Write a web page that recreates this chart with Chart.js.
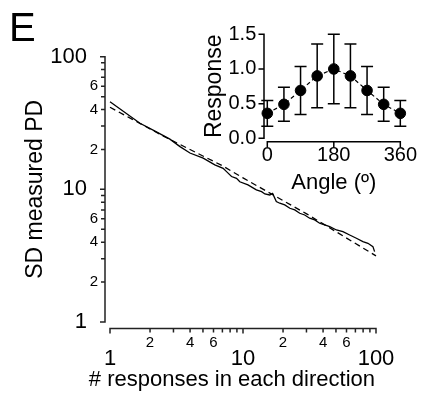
<!DOCTYPE html>
<html><head><meta charset="utf-8">
<script src="https://cdn.jsdelivr.net/npm/chart.js@4/dist/chart.umd.min.js"></script>
<style>
html,body{margin:0;padding:0;background:#fff;}
#wrap{position:relative;width:422px;height:393px;overflow:hidden;font-family:"Liberation Sans",Arial,sans-serif;}
#main{position:absolute;left:0;top:0;width:422px;height:393px;}
#inset{position:absolute;left:190px;top:0;width:232px;height:200px;}
#panel{position:absolute;left:9px;top:7px;font-size:40px;line-height:40px;color:#000;}
</style></head><body>
<div id="wrap">
<canvas id="main" width="422" height="393"></canvas>
<canvas id="inset" width="232" height="200"></canvas>
<div id="panel">E</div>
</div>
<script>
// ---- main panel data (log-log) ----
const nResponses = [1, 1.68, 2.18, 2.82, 3.36, 3.99, 5.02, 6.14, 7.09, 7.52, 8.2, 8.94, 9.46, 10.9, 12.6, 13.8, 14.6, 15.9, 16.7, 17.8, 18.9, 20.6, 22.5, 24.5, 26.7, 29.1, 31.7, 34.6, 37.7, 41.1, 44.9, 50.4, 56.4, 63.4, 71.2, 79.7, 87.0, 94.8, 97.6];
const sdMeasured = [45.8, 31.5, 27.5, 23.9, 21.0, 18.8, 17.2, 15.3, 14.4, 13.6, 12.5, 12.1, 11.4, 10.8, 9.9, 9.6, 9.23, 9.07, 9.31, 8.08, 7.86, 7.63, 7.20, 7.00, 6.60, 6.41, 6.06, 5.88, 5.55, 5.39, 5.24, 4.94, 4.80, 4.53, 4.28, 4.04, 3.92, 3.70, 3.39];
const fitN = [1, 2.5, 7.05, 10, 30.1, 58.1, 100];
const fitSD = [41.6, 25.3, 15.0, 12.2, 6.53, 4.38, 3.15];
const logTickValues = [1,2,3,4,5,6,7,8,9,10,20,30,40,50,60,70,80,90,100];
const logMajorValues = [1, 10, 100];
const logMinorLabels = {2:'2', 4:'4', 6:'6', 20:'2', 40:'4', 60:'6'};
const mainXTitle = '# responses in each direction';
const mainYTitle = 'SD measured PD';

// ---- inset data ----
const angles = [0, 45, 90, 135, 180, 225, 270, 315, 360];
const responses = [0.36, 0.49, 0.69, 0.90, 1.00, 0.90, 0.69, 0.49, 0.36];
const responseErr = [0.185, 0.245, 0.345, 0.46, 0.50, 0.46, 0.345, 0.245, 0.185];
const angleTicks = [0, 180, 360];
const responseTicks = [0, 0.5, 1.0, 1.5];
const insetXTitle = 'Angle (º)';
const insetYTitle = 'Response';

const FAMILY = "'Liberation Sans', Arial, Helvetica, sans-serif";
Chart.defaults.font.family = FAMILY;
Chart.defaults.color = '#000';

const offsetAxes = {
  id: 'offsetAxes',
  afterDraw(chart, args, o) {
    const {ctx, chartArea} = chart;
    const x = chart.scales.x, y = chart.scales.y;
    const ax = chartArea.left - o.gapX;
    const ay = chartArea.bottom + o.gapY;
    ctx.save();
    ctx.strokeStyle = o.color;
    ctx.lineWidth = o.width;
    ctx.lineCap = 'butt';
    ctx.beginPath();
    const yTop = y.getPixelForValue(y.max), yBot = y.getPixelForValue(y.min);
    ctx.moveTo(ax, yTop - o.width/2); ctx.lineTo(ax, yBot + o.width/2);
    y.ticks.forEach(t => {
      const py = y.getPixelForValue(t.value);
      const len = o.isMajorY(t.value) ? o.majorLen : o.minorLen;
      ctx.moveTo(ax, py); ctx.lineTo(ax - len, py);
    });
    const xL = x.getPixelForValue(x.min), xR = x.getPixelForValue(x.max);
    ctx.moveTo(xL - o.width/2, ay); ctx.lineTo(xR + o.width/2, ay);
    x.ticks.forEach(t => {
      const px = x.getPixelForValue(t.value);
      const len = o.isMajorX(t.value) ? o.majorLen : o.minorLen;
      ctx.moveTo(px, ay); ctx.lineTo(px, ay + len);
    });
    ctx.stroke();
    if (o.xTitle) {
      // axis title anchored to the right end of the x scale
      ctx.fillStyle = '#000';
      ctx.font = o.xTitle.size + 'px ' + FAMILY;
      ctx.textAlign = 'right';
      ctx.textBaseline = 'middle';
      ctx.fillText(o.xTitle.text, xR - 1, o.xTitle.y);
    }
    ctx.restore();
  }
};

const errorBars = {
  id: 'errorBars',
  beforeDatasetsDraw(chart, args, o) {
    const {ctx} = chart;
    const x = chart.scales.x, y = chart.scales.y;
    ctx.save();
    ctx.strokeStyle = '#000';
    ctx.lineWidth = o.width;
    ctx.beginPath();
    angles.forEach((a, i) => {
      const px = x.getPixelForValue(a);
      const top = y.getPixelForValue(responses[i] + responseErr[i]);
      const bot = y.getPixelForValue(responses[i] - responseErr[i]);
      ctx.moveTo(px, top); ctx.lineTo(px, bot);
      ctx.moveTo(px - o.cap, top); ctx.lineTo(px + o.cap, top);
      ctx.moveTo(px - o.cap, bot); ctx.lineTo(px + o.cap, bot);
    });
    ctx.stroke();
    ctx.restore();
  }
};

const isLogMajor = v => logMajorValues.includes(v);
const noGrid = {display: false, drawTicks: false, tickLength: 0};

new Chart(document.getElementById('main'), {
  type: 'line',
  data: {
    datasets: [
      {
        data: nResponses.map((n, i) => ({x: n, y: sdMeasured[i]})),
        borderColor: '#000', borderWidth: 1.3, pointRadius: 0, tension: 0, fill: false, clip: false
      },
      {
        data: fitN.map((n, i) => ({x: n, y: fitSD[i]})),
        borderColor: '#000', borderWidth: 1.3, borderDash: [6, 4], pointRadius: 0, tension: 0, fill: false, clip: false
      }
    ]
  },
  options: {
    responsive: false, animation: false, events: [],
    layout: {padding: {left: 0, top: 56.7, right: 46, bottom: 0}},
    plugins: {
      legend: {display: false}, tooltip: {enabled: false},
      offsetAxes: {gapX: 5, gapY: 6.5, color: '#222', width: 1.5, majorLen: 5, minorLen: 4,
        isMajorX: isLogMajor, isMajorY: isLogMajor,
        xTitle: {text: mainXTitle, size: 22, y: 380}}
    },
    scales: {
      x: {
        type: 'logarithmic', min: 1, max: 100,
        afterBuildTicks: s => { s.ticks = logTickValues.map(v => ({value: v})); },
        afterFit: s => { s.height = 71; },
        grid: noGrid, border: {display: false},
        ticks: {
          autoSkip: false, maxRotation: 0, minRotation: 0, padding: 13,
          font: c => (c.tick && isLogMajor(c.tick.value)) ? {family: FAMILY, size: 22, lineHeight: '16px'} : {family: FAMILY, size: 15, lineHeight: '16px'},
          callback: v => isLogMajor(v) ? ['', String(v)] : (logMinorLabels[v] || '')
        }
      },
      y: {
        type: 'logarithmic', min: 1, max: 100,
        afterBuildTicks: s => { s.ticks = logTickValues.map(v => ({value: v})); },
        afterFit: s => { s.width = 110; },
        grid: noGrid, border: {display: false},
        ticks: {
          autoSkip: false, padding: 12,
          font: c => (c.tick && isLogMajor(c.tick.value)) ? {family: FAMILY, size: 22} : {family: FAMILY, size: 15},
          callback: v => isLogMajor(v) ? String(v) + '\u2002' : (logMinorLabels[v] || '')
        },
        title: {display: true, text: mainYTitle, font: {family: FAMILY, size: 23, lineHeight: 1.2}, padding: {top: 22.2, bottom: 0}}
      }
    }
  },
  plugins: [offsetAxes]
});

new Chart(document.getElementById('inset'), {
  type: 'line',
  data: {
    datasets: [{
      data: angles.map((a, i) => ({x: a, y: responses[i]})),
      borderColor: '#000', borderWidth: 1.2, borderDash: [4, 3],
      pointRadius: 5.3, pointBackgroundColor: '#000', pointBorderColor: '#000', pointBorderWidth: 1,
      tension: 0, fill: false, clip: false
    }]
  },
  options: {
    responsive: false, animation: false, events: [],
    layout: {padding: {left: 0, top: 34.3, right: 18.7, bottom: 0}},
    plugins: {
      legend: {display: false}, tooltip: {enabled: false},
      offsetAxes: {gapX: 3.3, gapY: 3.4, color: '#000', width: 1.5, majorLen: 5.5, minorLen: 5.5,
        isMajorX: () => true, isMajorY: () => true},
      errorBars: {width: 1.5, cap: 6}
    },
    scales: {
      x: {
        type: 'linear', min: 0, max: 360,
        afterBuildTicks: s => { s.ticks = angleTicks.map(v => ({value: v})); },
        afterFit: s => { s.height = 61.7; },
        grid: noGrid, border: {display: false},
        ticks: {autoSkip: false, maxRotation: 0, minRotation: 0, padding: 5, font: {family: FAMILY, size: 20}, callback: v => String(v)},
        title: {display: true, text: insetXTitle, font: {family: FAMILY, size: 22, lineHeight: 1.2}, padding: {top: 0, bottom: 3.8}}
      },
      y: {
        type: 'linear', min: 0, max: 1.5,
        afterBuildTicks: s => { s.ticks = responseTicks.map(v => ({value: v})); },
        afterFit: s => { s.width = 77.3; },
        grid: noGrid, border: {display: false},
        ticks: {autoSkip: false, padding: 11, font: {family: FAMILY, size: 20}, callback: v => Number(v).toFixed(1)},
        title: {display: true, text: insetYTitle, font: {family: FAMILY, size: 23, lineHeight: 1.2}, padding: {top: 11.2, bottom: 0}}
      }
    }
  },
  plugins: [offsetAxes, errorBars]
});
</script>
</body></html>
